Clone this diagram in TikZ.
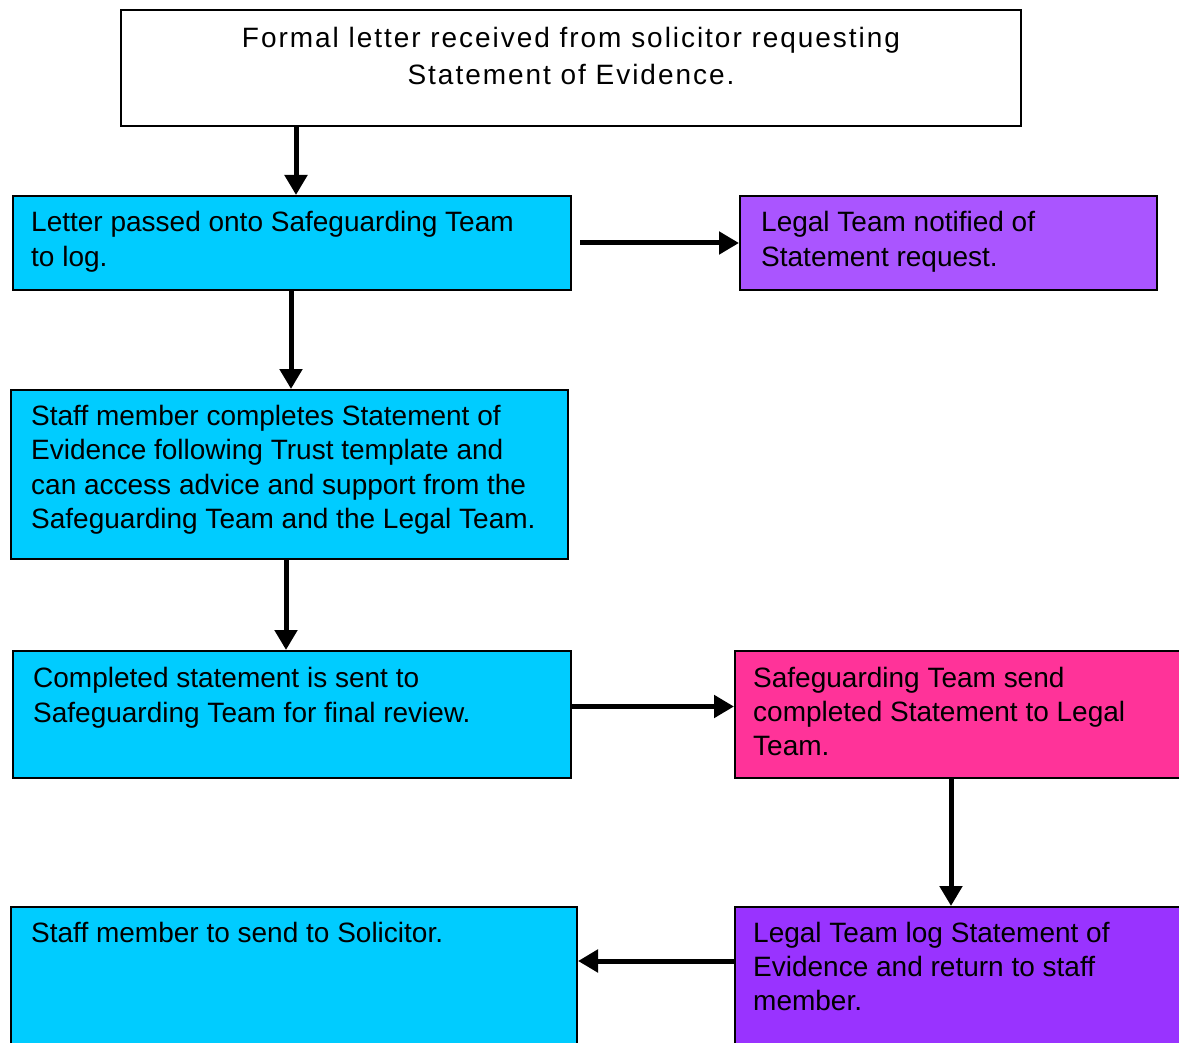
\documentclass[tikz,border=0pt]{standalone}
\usepackage{fontspec}
\setmainfont{Liberation Sans}
\usetikzlibrary{arrows.meta,calc}

\definecolor{skyblue}{HTML}{00CCFF}
\definecolor{lilac}{HTML}{AA55FF}
\definecolor{hotpink}{HTML}{FF3399}
\definecolor{legalpurple}{HTML}{9933FF}

\begin{document}
\begin{tikzpicture}
	[x=1pt,y=-1pt,
		flow/.style={-{Triangle[length=20pt,width=22pt]},line width=5pt},
		stage/.style={draw,line width=2pt,anchor=north west,inner sep=0pt},
		note/.style={anchor=north west,align=left,inner sep=0pt,font=\fontsize{28}{35}\selectfont}]

	\useasboundingbox (0,0) rectangle (1179,1043);
	\clip (0,0) rectangle (1179,1043);

	% boxes
	\node[stage,fill=white,minimum width=900pt,minimum height=116pt] (A) at (120,9) {};
	\node[stage,fill=skyblue,minimum width=558pt,minimum height=94pt] (B) at (12,195) {};
	\node[stage,fill=lilac,minimum width=417pt,minimum height=94pt] (C) at (739,195) {};
	\node[stage,fill=skyblue,minimum width=557pt,minimum height=169pt] (D) at (10,389) {};
	\node[stage,fill=skyblue,minimum width=558pt,minimum height=127pt] (E) at (12,650) {};
	\node[stage,fill=hotpink,minimum width=480pt,minimum height=127pt] (F) at (734,650) {};
	\node[stage,fill=skyblue,minimum width=566pt,minimum height=180pt] (G) at (10,906) {};
	\node[stage,fill=legalpurple,minimum width=480pt,minimum height=180pt] (H) at (734,906) {};

	% texts
	\node[note,anchor=north,align=center,font=\fontsize{28}{37}\selectfont\addfontfeature{LetterSpace=7}] (tA) at ([yshift=-18pt]A.north)
		{Formal letter received from solicitor requesting\\Statement of Evidence.};
	\node[note] (tB) at ([xshift=19pt,yshift=-16pt]B.north west)
		{Letter passed onto Safeguarding Team\\to log.};
	\node[note] (tC) at ([xshift=22pt,yshift=-16pt]C.north west)
		{Legal Team notified of\\Statement request.};
	\node[note,font=\fontsize{28}{34.5}\selectfont] (tD) at ([xshift=21pt,yshift=-16pt]D.north west)
		{Staff member completes Statement of\\Evidence following Trust template and\\can access advice and support from the\\Safeguarding Team and the Legal Team.};
	\node[note] (tE) at ([xshift=21pt,yshift=-17pt]E.north west)
		{Completed statement is sent to\\Safeguarding Team for final review.};
	\node[note,font=\fontsize{28}{34}\selectfont] (tF) at ([xshift=19pt,yshift=-17pt]F.north west)
		{Safeguarding Team send\\completed Statement to Legal\\Team.};
	\node[note] (tG) at ([xshift=21pt,yshift=-16pt]G.north west)
		{Staff member to send to Solicitor.};
	\node[note,font=\fontsize{28}{34}\selectfont] (tH) at ([xshift=19pt,yshift=-16pt]H.north west)
		{Legal Team log Statement of\\Evidence and return to staff\\member.};

	% arrows
	\coordinate (pA) at ([xshift=176pt]A.south west);
	\coordinate (pB) at ([xshift=279pt]B.south west);
	\coordinate (pD) at ([xshift=276pt]D.south west);
	\coordinate (pE) at ([yshift=8pt]E.east);
	\coordinate (pF) at ([xshift=217pt]F.south west);
	\coordinate (pH) at ([yshift=-55pt]H.north west);

	\draw[flow] (pA) -- (pA |- B.north);
	\draw[flow,shorten <=8pt] (B.east) -- (C.west);
	\draw[flow] (pB) -- (pB |- D.north);
	\draw[flow] (pD) -- (pD |- E.north);
	\draw[flow] (pE) -- (pE -| F.west);
	\draw[flow] (pF) -- (pF |- H.north);
	\draw[flow] (pH) -- (pH -| G.east);

\end{tikzpicture}
\end{document}
